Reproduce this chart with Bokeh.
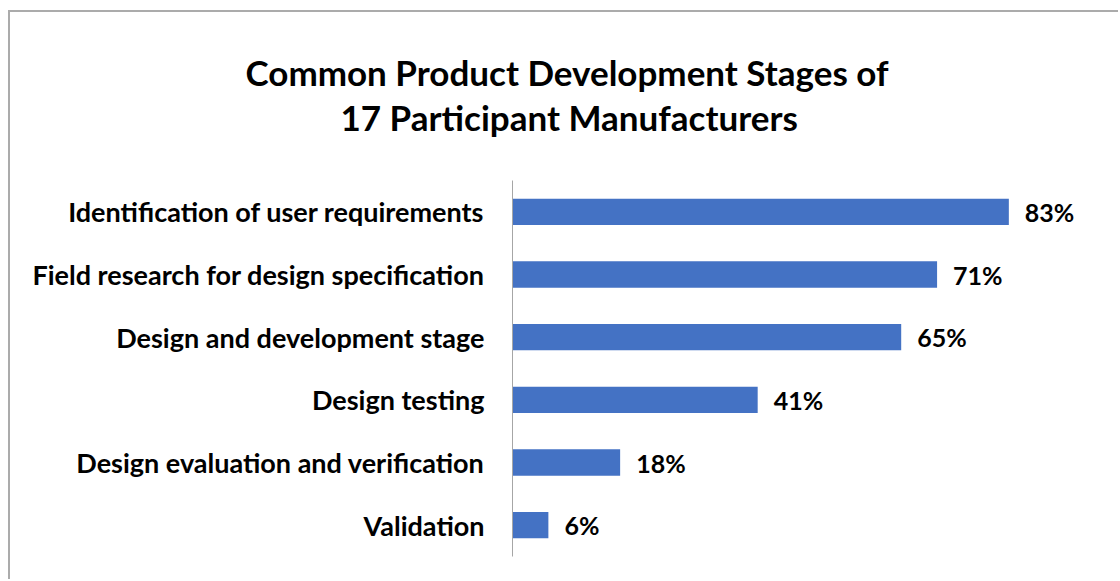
from bokeh.plotting import figure
from bokeh.models import ColumnDataSource, Title
from bokeh.core.properties import value
from bokeh.embed import file_html
from bokeh.resources import INLINE

stages = ["Identification of user requirements",
          "Field research for design specification",
          "Design and development stage",
          "Design testing",
          "Design evaluation and verification",
          "Validation"]
shares = [0.83, 0.71, 0.65, 0.41, 0.18, 0.06]
share_labels = ["83%", "71%", "65%", "41%", "18%", "6%"]
title_lines = ["Common Product Development Stages of", "17 Participant Manufacturers"]

FONT = "Lato"
BAR = "#4472C4"

src = ColumnDataSource(dict(stage=stages, share=shares, label=share_labels))

p = figure(width=1110, height=569, output_backend="svg", toolbar_location=None,
           y_range=list(reversed(stages)), x_range=(0, 1.0),
           min_border_left=502, min_border_right=10, min_border_bottom=25,
           min_border_top=168)
p.title = None

# spacer closest to the frame, then the two title lines
spacer = Title(text=" ", text_font_size="1px", standoff=40, text_color="white")
t2 = Title(text=title_lines[1], align="left", offset=-172, standoff=0,
           text_font=FONT, text_font_size="35px", text_font_style="bold",
           text_color="black")
t1 = Title(text=title_lines[0], align="left", offset=-267, standoff=1,
           text_font=FONT, text_font_size="35px", text_font_style="bold",
           text_color="black")
p.add_layout(spacer, "above")
p.add_layout(t2, "above")
p.add_layout(t1, "above")

p.hbar(y="stage", right="share", left=0, height=0.42, source=src,
       fill_color=BAR, line_color=None)
p.text(x="share", y="stage", text="label", source=src, x_offset=16,
       text_font=value(FONT), text_font_size="25px", text_font_style="bold",
       text_color="black", text_baseline="middle", text_align="left")

p.xaxis.visible = False
p.xgrid.grid_line_color = None
p.ygrid.grid_line_color = None
p.yaxis.axis_line_color = "#a6a6a6"
p.yaxis.axis_line_width = 1
p.yaxis.major_tick_line_color = None
p.yaxis.minor_tick_line_color = None
p.yaxis.major_label_standoff = 22
p.yaxis.major_label_text_font = FONT
p.yaxis.major_label_text_font_size = "27px"
p.yaxis.major_label_text_font_style = "bold"
p.yaxis.major_label_text_color = "black"
p.outline_line_color = None
p.styles = {"border-left": "2px solid #ababab", "border-top": "2px solid #ababab",
            "margin-left": "8px", "margin-top": "10px"}

open("out.html", "w").write(file_html(p, INLINE))
